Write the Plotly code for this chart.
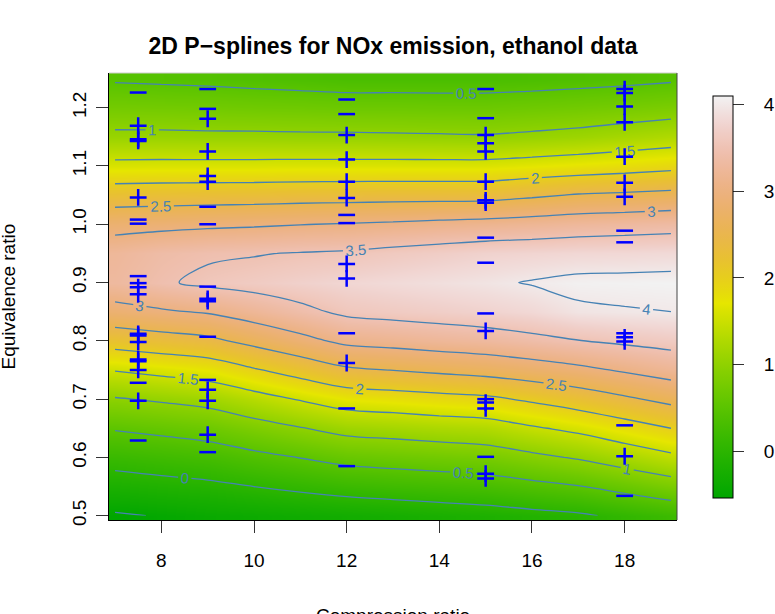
import colorsys
import plotly.graph_objects as go

# ---------------- data ----------------
# grid of the fitted surface (compression ratio C, equivalence ratio E)
x_nodes = [7, 8, 9, 10, 11, 12, 13, 14, 15, 16, 17, 18, 19]
y_nodes = [0.50, 0.55, 0.60, 0.65, 0.70, 0.75, 0.80, 0.85,
           0.90, 0.95, 1.00, 1.05, 1.10, 1.15, 1.20, 1.25]

# fitted NOx values, one list per compression-ratio column (E from 0.50 to 1.25)
z_c7 = [-0.54, -0.19, 0.16, 0.53, 0.97, 1.52, 2.20, 2.85, 3.30, 3.25, 2.85, 2.25, 1.61, 1.08, 0.75, 0.46]
z_c8 = [-0.48, -0.13, 0.22, 0.60, 1.05, 1.62, 2.30, 2.95, 3.45, 3.38, 2.88, 2.27, 1.62, 1.08, 0.74, 0.44]
z_c9 = [-0.42, -0.08, 0.28, 0.68, 1.14, 1.72, 2.40, 3.04, 3.58, 3.45, 2.92, 2.28, 1.62, 1.07, 0.73, 0.42]
z_c10 = [-0.38, 0.00, 0.40, 0.83, 1.33, 1.96, 2.63, 3.22, 3.65, 3.48, 2.95, 2.29, 1.62, 1.07, 0.71, 0.39]
z_c11 = [-0.34, 0.08, 0.51, 0.98, 1.53, 2.19, 2.87, 3.40, 3.73, 3.52, 2.99, 2.31, 1.63, 1.06, 0.70, 0.36]
z_c12 = [-0.30, 0.16, 0.63, 1.13, 1.72, 2.43, 3.10, 3.58, 3.80, 3.55, 3.02, 2.32, 1.63, 1.06, 0.68, 0.33]
z_c13 = [-0.26, 0.21, 0.68, 1.18, 1.78, 2.51, 3.16, 3.64, 3.85, 3.62, 3.06, 2.33, 1.63, 1.05, 0.68, 0.33]
z_c14 = [-0.21, 0.25, 0.73, 1.24, 1.85, 2.59, 3.23, 3.69, 3.90, 3.68, 3.11, 2.33, 1.63, 1.04, 0.67, 0.33]
z_c15 = [-0.17, 0.30, 0.78, 1.29, 1.91, 2.67, 3.29, 3.75, 3.95, 3.75, 3.15, 2.34, 1.63, 1.03, 0.67, 0.33]
z_c16 = [-0.11, 0.39, 0.91, 1.45, 2.07, 2.78, 3.39, 3.82, 4.02, 3.78, 3.20, 2.43, 1.69, 1.07, 0.70, 0.35]
z_c17 = [-0.05, 0.48, 1.04, 1.60, 2.24, 2.90, 3.49, 3.95, 4.08, 3.81, 3.26, 2.53, 1.75, 1.12, 0.73, 0.38]
z_c18 = [0.07, 0.63, 1.22, 1.80, 2.43, 3.05, 3.57, 3.98, 4.09, 3.82, 3.30, 2.57, 1.81, 1.20, 0.77, 0.41]
z_c19 = [0.18, 0.79, 1.41, 2.00, 2.62, 3.20, 3.64, 4.00, 4.10, 3.84, 3.34, 2.62, 1.88, 1.28, 0.82, 0.45]

z_min, z_max = -0.54, 4.10
contour_levels = (-0.5, 4.0, 0.5)

# observations: positive residuals (+) and negative residuals (-)
plus_C = [7.5] * 13 + [9] * 9 + [12] * 7 + [15] * 11 + [18] * 10
plus_E = [1.169, 1.146, 1.143, 1.046, 0.892, 0.880, 0.812, 0.809, 0.798, 0.768, 0.765, 0.750, 0.697,
          1.181, 1.125, 1.083, 1.073, 0.872, 0.868, 0.716, 0.697, 0.639,
          1.153, 1.111, 1.073, 1.045, 0.932, 0.907, 0.762,
          1.153, 1.139, 1.125, 1.073, 1.041, 1.037, 0.817, 0.694, 0.684, 0.572, 0.564,
          1.232, 1.225, 1.202, 1.175, 1.116, 1.071, 1.047, 0.806, 0.799, 0.602]
minus_C = [7.5] * 7 + [9] * 8 + [12] * 7 + [15] * 7 + [18] * 5
minus_E = [1.226, 1.008, 1.001, 0.911, 0.899, 0.728, 0.629,
           1.232, 1.198, 1.030, 1.000, 0.893, 0.807, 0.733, 0.609,
           1.214, 1.189, 1.016, 1.002, 0.813, 0.684, 0.585,
           1.232, 1.182, 0.977, 0.934, 0.847, 0.700, 0.601,
           0.989, 0.969, 0.813, 0.655, 0.534]

x_ticks = [8, 10, 12, 14, 16, 18]
y_ticks = [0.5, 0.6, 0.7, 0.8, 0.9, 1.0, 1.1, 1.2]
y_ticktext = ["0.5", "0.6", "0.7", "0.8", "0.9", "1.0", "1.1", "1.2"]
cb_ticks = [0, 1, 2, 3, 4]

title_text = "2D P\u2212splines for NOx emission, ethanol data"
x_label = "Compression ratio"
y_label = "Equivalence ratio"

# ---------------- build figure ----------------
cols = [z_c7, z_c8, z_c9, z_c10, z_c11, z_c12, z_c13, z_c14, z_c15, z_c16, z_c17, z_c18, z_c19]
z = [[c[j] for c in cols] for j in range(len(y_nodes))]


def terrain_scale(n=65):
    k = n // 2
    out = []
    for i in range(k):
        t = i / (k - 1)
        h = 4 / 12 + (2 / 12 - 4 / 12) * t
        out.append(colorsys.hsv_to_rgb(h, 1.0, 0.65 + 0.25 * t))
    for i in range(1, n - k + 1):
        t = i / (n - k)
        out.append(colorsys.hsv_to_rgb(2 / 12 * (1 - t), 1 - t, 0.90 + 0.05 * t))
    m = len(out)
    return [[i / (m - 1), "rgb(%d,%d,%d)" % tuple(round(255 * c) for c in rgb)]
            for i, rgb in enumerate(out)]


FONT = "Liberation Sans, Arial, Helvetica, sans-serif"
LINE = "#4682B4"
FS = 19

# plot area in pixels
L, R, T, B = 109, 677, 73, 520
W, H = 775, 614

fig = go.Figure()
fig.add_trace(go.Heatmap(
    x=x_nodes, y=y_nodes, z=z, zmin=z_min, zmax=z_max, zsmooth="best",
    colorscale=terrain_scale(), hoverinfo="skip",
    colorbar=dict(
        x=(713 - L) / (R - L), xanchor="left", xpad=0,
        y=(B - 297) / (B - T), yanchor="middle", ypad=0,
        lenmode="pixels", len=402, thicknessmode="pixels", thickness=20,
        outlinecolor="black", outlinewidth=1,
        tickmode="array", tickvals=cb_ticks,
        ticktext=["\u00a0\u00a0\u00a0" + str(v) for v in cb_ticks],
        ticks="outside", ticklen=11, tickcolor="#333", tickwidth=1,
        tickfont=dict(family=FONT, size=FS, color="black"),
    ),
))
fig.add_trace(go.Contour(
    x=x_nodes, y=y_nodes, z=z, showscale=False, hoverinfo="skip",
    contours=dict(start=contour_levels[0], end=contour_levels[1], size=contour_levels[2],
                  coloring="none", showlabels=True,
                  labelfont=dict(family=FONT, size=15, color=LINE)),
    line=dict(color=LINE, width=1.3, smoothing=1),
))
fig.add_trace(go.Scatter(
    x=plus_C, y=plus_E, mode="markers", hoverinfo="skip",
    marker=dict(symbol="cross-thin", size=12, color="blue",
                line=dict(color="blue", width=2.5)),
))
fig.add_trace(go.Scatter(
    x=minus_C, y=minus_E, mode="markers", hoverinfo="skip",
    marker=dict(symbol="line-ew", size=12, color="blue",
                line=dict(color="blue", width=2.5)),
))

fig.update_layout(
    width=W, height=H, showlegend=False,
    margin=dict(l=L, r=W - R, t=T, b=H - B, autoexpand=False),
    paper_bgcolor="white", plot_bgcolor="white",
    font=dict(family=FONT, color="black"),
    title=dict(text="<b>" + title_text + "</b>", x=0.5, xref="paper",
               y=1 - 46 / H, yref="container", yanchor="middle",
               font=dict(family=FONT, size=23, color="black")),
    xaxis=dict(range=[6.87, 19.13], tickvals=x_ticks, ticks="outside", ticklen=12,
               tickcolor="#333", showgrid=False, zeroline=False, showline=True,
               linecolor="black", linewidth=1, ticklabelstandoff=11,
               tickfont=dict(family=FONT, size=FS, color="black")),
    yaxis=dict(range=[0.4926, 1.2595], tickvals=y_ticks, ticktext=y_ticktext,
               ticks="outside", ticklen=12, tickcolor="#333", tickangle=-90,
               showgrid=False, zeroline=False, showline=True, linecolor="black",
               linewidth=1, ticklabelstandoff=2,
               tickfont=dict(family=FONT, size=FS, color="black")),
    shapes=[
        dict(type="line", xref="paper", yref="paper", x0=0, x1=1, y0=1, y1=1,
             line=dict(color="#cccccc", width=1)),
        dict(type="line", xref="paper", yref="paper", x0=1, x1=1, y0=0, y1=1,
             line=dict(color="#444444", width=1)),
    ],
    annotations=[
        dict(text=x_label, xref="paper", yref="paper", x=0.5,
             y=-(603 - B) / (B - T), yanchor="top", showarrow=False,
             font=dict(family=FONT, size=FS, color="black")),
        dict(text=y_label, xref="paper", yref="paper", x=-(L - 8) / (R - L),
             xanchor="center", y=0.5, yanchor="middle", textangle=-90, showarrow=False,
             font=dict(family=FONT, size=FS, color="black")),
    ],
)

fig.write_html("out.html", config={"displayModeBar": False},
               post_script="document.body.style.margin='0';document.body.style.overflow='hidden';")
